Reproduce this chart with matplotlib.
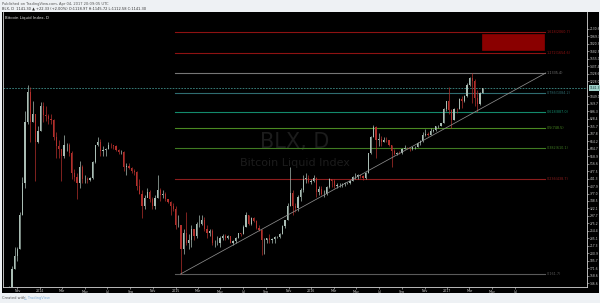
import numpy as np
import pandas as pd
import matplotlib
matplotlib.use("Agg")
import matplotlib.pyplot as plt
import matplotlib.dates as mdates
import matplotlib.transforms as mtransforms
from matplotlib.patches import Rectangle
from matplotlib.ticker import NullLocator

# ---------------- data (weekly candles) ----------------
first_open = 125.0
week_high = [140, 142, 175, 215, 215, 310, 450, 900, 1180, 1160, 1000, 870, 770, 990,
             990, 950, 870, 870, 830, 720, 660, 600, 700, 640, 640, 590, 490, 470, 530, 510,
             460, 450, 450, 530, 630, 680, 670, 620, 610, 650, 640, 630, 625, 600, 595, 590,
             520, 520, 500, 490, 480, 440, 390, 370, 400, 390, 365, 370, 460, 400, 390, 385,
             355, 350, 340, 330,
             300, 270, 260, 310, 245, 270, 260, 280, 300, 300, 295, 270, 260, 260, 230, 240,
             240, 245, 245, 243, 240, 232, 238, 250, 250, 270, 310, 300, 295, 295, 285, 270,
             260, 235, 235, 245, 235, 240, 240, 248, 272, 285, 340, 500, 390, 340, 370, 400,
             460, 470, 460, 440,
             460, 450, 410, 410, 390, 410, 445, 440, 440, 420, 420, 420, 425, 425, 432, 455,
             470, 465, 460, 460, 475, 580, 690, 775, 770, 710, 690, 680, 680, 665, 625, 600,
             585, 590, 610, 630, 612, 610, 612, 620, 645, 660, 720, 740, 720, 750, 745, 770,
             775, 790, 930, 1000,
             1160, 920, 930, 930, 1030, 1050, 1060, 1200, 1290, 1335.4, 1260, 1120, 1100, 1145]
week_low = [110, 125, 138, 170, 185, 210, 300, 400, 780, 650, 800, 430, 640, 730,
            800, 810, 780, 780, 660, 550, 550, 430, 550, 590, 560, 440, 430, 355, 400, 420,
            420, 420, 430, 440, 520, 620, 560, 560, 560, 600, 610, 600, 590, 570, 570, 480,
            460, 490, 470, 460, 390, 375, 290, 320, 370, 345, 320, 320, 360, 350, 360, 350,
            340, 300, 315, 260,
            265, 162, 200, 220, 210, 215, 230, 235, 265, 270, 255, 235, 240, 220, 215, 220,
            215, 230, 232, 233, 225, 220, 225, 236, 240, 245, 265, 270, 272, 278, 260, 255,
            197, 200, 225, 225, 225, 225, 235, 235, 245, 262, 285, 330, 300, 310, 315, 350,
            385, 420, 420, 415,
            425, 365, 370, 370, 365, 370, 400, 405, 400, 400, 405, 405, 410, 415, 418, 428,
            440, 440, 445, 435, 440, 470, 570, 680, 550, 620, 620, 645, 650, 620, 500, 565,
            565, 570, 570, 600, 600, 590, 595, 605, 612, 628, 650, 690, 690, 700, 720, 725,
            755, 765, 790, 895,
            870, 755, 820, 880, 915, 930, 990, 1040, 1170, 980, 950, 890, 960, 1080]
week_close = [135, 138, 170, 195, 210, 300, 420, 800, 1100, 800, 870, 650, 730, 950,
              860, 850, 830, 820, 680, 620, 600, 560, 630, 630, 580, 470, 450, 420, 500, 440,
              440, 435, 445, 525, 630, 650, 590, 595, 600, 630, 625, 620, 595, 585, 585, 500,
              505, 495, 480, 475, 410, 377, 330, 360, 385, 355, 330, 360, 390, 370, 375, 355,
              345, 330, 320, 270,
              270, 210, 250, 225, 230, 260, 240, 275, 275, 285, 260, 250, 255, 225, 225, 225,
              235, 240, 237, 240, 225, 228, 236, 248, 245, 265, 300, 275, 290, 282, 262, 258,
              230, 230, 235, 230, 233, 238, 238, 245, 268, 285, 330, 380, 330, 325, 365, 390,
              440, 445, 425, 430,
              445, 385, 395, 375, 375, 405, 440, 430, 410, 412, 412, 418, 420, 420, 430, 450,
              450, 460, 455, 445, 470, 575, 680, 760, 660, 670, 650, 665, 660, 625, 590, 570,
              580, 575, 605, 610, 607, 600, 612, 615, 640, 655, 700, 705, 700, 730, 735, 765,
              770, 790, 920, 995,
              910, 820, 920, 915, 1020, 1000, 1050, 1180, 1270, 1230, 1030, 970, 1085, 1141.3]
series_start = "2013-09-30"

last_price = 1141.3

fib_low = 161.7
fib_high = 1335.4
fib_ratios = [0, 0.236, 0.382, 0.5, 0.618, 0.786, 1, 1.272, 1.618]
fib_colors = ["#5a5a5a", "#8b1d1d", "#3f7a22", "#4a8a22", "#138a6c", "#2f6c70",
              "#767676", "#8e1212", "#8e1212"]
fib_span = ["2014-12-30", "2017-09-20"]

trend_dates = ["2015-01-14", "2017-09-23"]
trend_prices = [161.7, 1340.0]

target_dates = ["2017-04-05", "2017-09-19"]
target_prices = [1703.0, 2018.0]

price_ticks = [146.6, 158.6, 171.6, 185.7, 200.9, 217.3, 235.1, 254.4, 275.2, 297.7,
               322.1, 348.5, 377.0, 407.9, 441.3, 477.5, 516.6, 558.9, 604.7, 654.2,
               707.8, 765.7, 828.4, 896.3, 969.7, 1049.1, 1228.0, 1328.6, 1437.4,
               1555.1, 1682.5, 1820.3, 1969.3, 2130.6]

time_tick_dates = ["2013-11-01", "2014-01-01", "2014-03-01", "2014-05-01", "2014-07-01",
                   "2014-09-01", "2014-11-01", "2015-01-01", "2015-03-01", "2015-05-01",
                   "2015-07-01", "2015-09-01", "2015-11-01", "2016-01-01", "2016-03-01",
                   "2016-05-01", "2016-07-01", "2016-09-01", "2016-11-01", "2017-01-01",
                   "2017-03-01", "2017-05-01", "2017-07-01"]
time_tick_labels = ["Nov", "2014", "Mar", "May", "Jul", "Sep", "Nov", "2015", "Mar", "May",
                    "Jul", "Sep", "Nov", "2016", "Mar", "May", "Jul", "Sep", "Nov", "2017",
                    "Mar", "May", "Jul"]

x_range = ["2013-09-23", "2018-01-12"]
y_range = [141.0, 2545.0]

# ---------------- figure ----------------
W, H = 600, 303
fig = plt.figure(figsize=(W / 100, H / 100), dpi=100, facecolor="#eef1f4")

fig.add_artist(Rectangle((2 / W, (H - 293) / H), 597 / W, (293 - 12) / H,
                         transform=fig.transFigure, facecolor="black",
                         edgecolor="none", zorder=-1))

ax = fig.add_axes([3 / W, (H - 287) / H, 584 / W, (287 - 12) / H])
ax.set_facecolor("black")
ax.set_yscale("log")

dn = mdates.date2num
x0 = dn(pd.Timestamp(x_range[0]))
x1 = dn(pd.Timestamp(x_range[1]))
ax.set_xlim(x0, x1)
ax.set_ylim(*y_range)

# candles
starts = pd.date_range(series_start, periods=len(week_close), freq="7D")
xc = dn(starts) + 3.0
closes = np.array(week_close, float)
opens = np.concatenate([[first_open], closes[:-1]])
highs = np.array(week_high, float)
lows = np.array(week_low, float)
up = closes >= opens
up_col, dn_col = "#a9bdb4", "#b3302c"
cols = np.where(up, up_col, dn_col)
ax.vlines(xc, lows, highs, colors=cols, linewidth=0.5, zorder=3)
body_lo = np.minimum(opens, closes)
body_hi = np.maximum(opens, closes)
ax.bar(xc, body_hi - body_lo, bottom=body_lo, width=3.2, color=cols,
       linewidth=0, zorder=3)

# watermark
ax.text(0.5, 0.527, "BLX, D", transform=ax.transAxes, ha="center", va="center",
        fontsize=15, color="#1c1c1c", zorder=1)
ax.text(0.5, 0.451, "Bitcoin Liquid Index", transform=ax.transAxes, ha="center",
        va="center", fontsize=8, color="#1c1c1c", zorder=1)

# fib levels
fx0, fx1 = dn(pd.Timestamp(fib_span[0])), dn(pd.Timestamp(fib_span[1]))
for r, c in zip(fib_ratios, fib_colors):
    p = fib_low + r * (fib_high - fib_low)
    ax.plot([fx0, fx1], [p, p], color=c, linewidth=0.8, zorder=2)
    ax.annotate(f"{r:g}({p:.1f})", xy=(fx1, p), xytext=(1.2, 0),
                textcoords="offset points", ha="left", va="center",
                fontsize=2.4, color=c, zorder=4)

# target box
tx0, tx1 = dn(pd.Timestamp(target_dates[0])), dn(pd.Timestamp(target_dates[1]))
ax.add_patch(Rectangle((tx0, target_prices[0]), tx1 - tx0,
                       target_prices[1] - target_prices[0],
                       facecolor="#8a0000", edgecolor="#8a0000", linewidth=0.5, zorder=2))

# trend line
ax.plot([dn(pd.Timestamp(d)) for d in trend_dates], trend_prices, color="#8c8c8c",
        linewidth=0.55, zorder=4)

# last price line
ax.axhline(last_price, color="#3f8e8a", linewidth=0.6, linestyle=(0, (2, 1.5)), zorder=2)

# axes styling
ax.spines["top"].set_visible(False)
for s in ["left", "bottom", "right"]:
    ax.spines[s].set_color("#d8d8d8")
    ax.spines[s].set_linewidth(0.6)

ax.yaxis.tick_right()
ax.yaxis.set_minor_locator(NullLocator())
ax.set_yticks(price_ticks)
ax.set_yticklabels([f"{v:.1f}" for v in price_ticks])
ax.tick_params(axis="y", which="major", colors="#d8d8d8", labelcolor="#cfcfcf",
               labelsize=2.2, length=1.5, width=0.4, pad=0.6, direction="out")

ax.set_xticks([dn(pd.Timestamp(d)) for d in time_tick_dates])
ax.set_xticklabels(time_tick_labels)
ax.xaxis.set_minor_locator(NullLocator())
ax.tick_params(axis="x", which="major", colors="#d8d8d8", labelcolor="#cfcfcf",
               labelsize=2.3, length=1.2, width=0.4, pad=0.6, direction="out")

# last price tag on the price axis
blend = mtransforms.blended_transform_factory(ax.transAxes, ax.transData)
ax.text(1.004, last_price, f"{last_price:.1f}", transform=blend, ha="left", va="center",
        fontsize=2.2, color="#10302e", clip_on=False, zorder=6,
        bbox=dict(boxstyle="square,pad=0.25", facecolor="#9fd0c9", edgecolor="none"))

# pane title
ax.text(0.004, 0.985, "Bitcoin Liquid Index, D", transform=ax.transAxes, ha="left",
        va="top", fontsize=2.8, color="#e6e6e6", zorder=6)

# header / footer
fig.text(2 / W, 1 - 3.5 / H, "Published on TradingView.com, Apr 04, 2017 20:09:05 UTC",
         fontsize=2.6, color="#555555", ha="left", va="center")
fig.text(2 / W, 1 - 8.5 / H,
         "BLX, D  1141.30 \u25b2 +22.33 (+2.00%) O:1118.97 H:1145.72 L:1112.58 C:1141.30",
         fontsize=2.6, color="#333333", ha="left", va="center")
fig.text(2 / W, 1 - 298 / H, "Created with", fontsize=2.6, color="#555555",
         ha="left", va="center")
fig.text(24 / W, 1 - 298 / H, "\u25b3 TradingView", fontsize=2.6, color="#7faed6",
         ha="left", va="center")

fig.savefig("out.png", dpi=100, facecolor=fig.get_facecolor())
